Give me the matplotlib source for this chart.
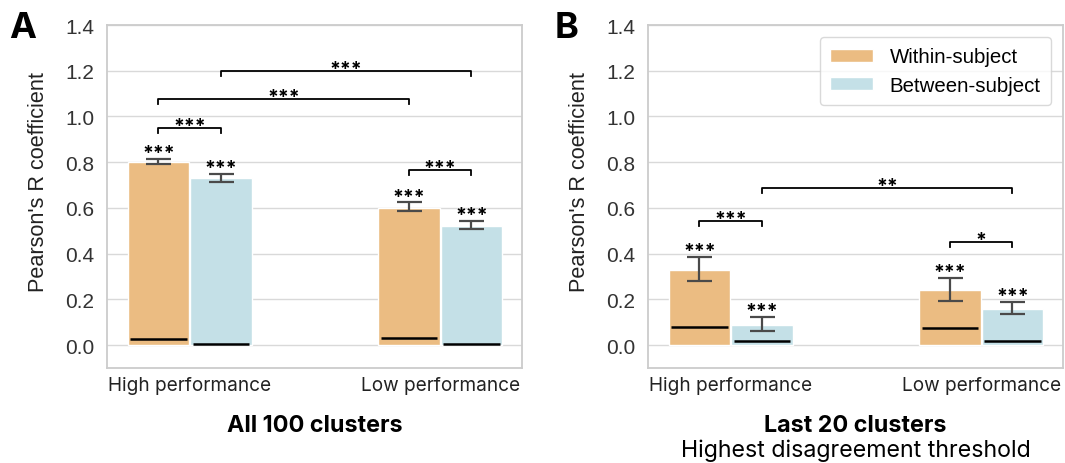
import numpy as np
import matplotlib.pyplot as plt
from matplotlib.patches import Patch

plt.rcParams['font.family'] = ['Inter', 'DejaVu Sans']

# ---- data ----
groups = ["High performance", "Low performance"]
hues = ["Within-subject", "Between-subject"]
colors = ["#ebbc82", "#c4e0e7"]

# panel A: all 100 clusters
a_mean = [[0.802, 0.602], [0.729, 0.522]]
a_lo = [[0.793, 0.588], [0.713, 0.507]]
a_hi = [[0.816, 0.624], [0.749, 0.544]]
a_null = [[0.028, 0.031], [0.007, 0.007]]
a_stars = [["***", "***"], ["***", "***"]]
# brackets: (group1, hue1, group2, hue2, height, label)
a_brackets = [(0, 0, 0, 1, 0.95, "***"),
              (0, 0, 1, 0, 1.075, "***"),
              (0, 1, 1, 1, 1.20, "***"),
              (1, 0, 1, 1, 0.766, "***")]

# panel B: last 20 clusters
b_mean = [[0.329, 0.241], [0.090, 0.159]]
b_lo = [[0.281, 0.192], [0.061, 0.136]]
b_hi = [[0.386, 0.294], [0.124, 0.188]]
b_null = [[0.080, 0.076], [0.016, 0.019]]
b_stars = [["***", "***"], ["***", "***"]]
b_brackets = [(0, 0, 0, 1, 0.542, "***"),
              (0, 1, 1, 1, 0.687, "**"),
              (1, 0, 1, 1, 0.452, "*")]

width = 0.245
offsets = [-0.125, 0.125]
arial = ['Liberation Sans', 'DejaVu Sans']


def draw_panel(ax, mean, lo, hi, null, stars, brackets):
    x = np.arange(len(groups))
    for h in range(2):
        xs = x + offsets[h]
        m = np.asarray(mean[h])
        err = np.vstack([m - np.asarray(lo[h]), np.asarray(hi[h]) - m])
        ax.bar(xs, m, width=width, color=colors[h], edgecolor="white",
               linewidth=1, zorder=2)
        ax.errorbar(xs, m, yerr=err, fmt="none", ecolor="#4a4a4a",
                    elinewidth=1.6, capsize=9, capthick=1.6, zorder=3)
        for xi, n in zip(xs, null[h]):
            ax.hlines(n, xi - width * 0.46, xi + width * 0.46, color="black",
                      lw=1.8, zorder=4)
        for xi, t, s in zip(xs, hi[h], stars[h]):
            ax.annotate(s, (xi, t), xytext=(0, 0.5), textcoords="offset points",
                        ha="center", va="baseline", fontsize=14,
                        fontweight="bold", zorder=5)
    for g1, h1, g2, h2, y, s in brackets:
        x1 = g1 + offsets[h1]
        x2 = g2 + offsets[h2]
        d = 0.022
        ax.plot([x1, x1, x2, x2], [y - d, y, y, y - d], color="black",
                lw=1.3, zorder=4)
        ax.annotate(s, ((x1 + x2) / 2, y), xytext=(0, -2),
                    textcoords="offset points", ha="center", va="baseline",
                    fontsize=14, fontweight="bold")

    ax.set_xlim(-0.33, 1.327)
    ax.set_ylim(-0.1, 1.4)
    ax.set_yticks(np.arange(0, 1.41, 0.2))
    ax.set_yticklabels([f"{v:.1f}" for v in np.arange(0, 1.41, 0.2)],
                       fontsize=15, color="#333333", family=arial)
    ax.set_xticks(x)
    ax.set_xticklabels(groups, fontsize=13.7, color="#222222")
    ax.tick_params(axis="y", length=0, pad=9)
    ax.tick_params(axis="x", length=0, pad=6)
    ax.grid(axis="y", color="#d9d9d9", lw=1, zorder=0)
    ax.set_axisbelow(True)
    for sp in ax.spines.values():
        sp.set_color("#cccccc")
        sp.set_linewidth(1.3)
    ax.set_ylabel("Pearson's R coefficient", fontsize=15.6, labelpad=8,
                  color="#222222", family=arial)
    ax.yaxis.set_label_coords(-0.14, 0.545)


fig = plt.figure(figsize=(10.65, 4.64), dpi=100)
axA = fig.add_axes([0.1005, 0.2047, 0.3897, 0.7392])
axB = fig.add_axes([0.6085, 0.2047, 0.3897, 0.7392])

draw_panel(axA, a_mean, a_lo, a_hi, a_null, a_stars, a_brackets)
draw_panel(axB, b_mean, b_lo, b_hi, b_null, b_stars, b_brackets)

axA.set_xlabel("All 100 clusters", fontsize=16.8, fontweight="bold",
               labelpad=14)
axB.set_xlabel("Last 20 clusters", fontsize=16.8, fontweight="bold",
               labelpad=14)
axB.text(0.5, -0.205, "Highest disagreement threshold", transform=axB.transAxes,
         ha="center", va="top", fontsize=16.7)

fig.text(0.009, 0.975, "A", fontsize=26, fontweight="bold", va="top")
fig.text(0.521, 0.975, "B", fontsize=26, fontweight="bold", va="top")

handles = [Patch(facecolor=c, edgecolor="white") for c in colors]
axB.legend(handles, hues, loc="upper right", prop={"family": arial, "size": 14.7},
           frameon=True, edgecolor="#d0d0d0", fancybox=True, handlelength=2.1,
           handleheight=0.65, handletextpad=0.8, borderpad=0.5,
           labelspacing=0.45, borderaxespad=0.6)

fig.savefig("out.png", dpi=100)
